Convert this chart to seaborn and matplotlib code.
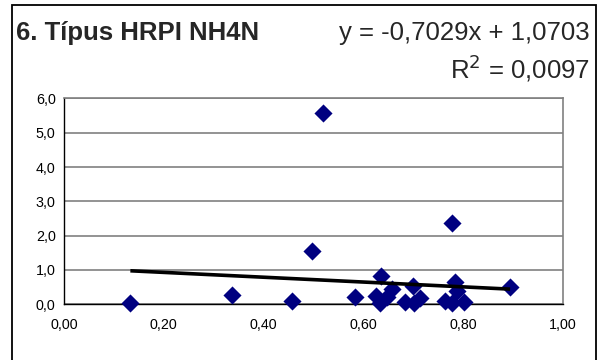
import numpy as np
import pandas as pd
import matplotlib
matplotlib.use("Agg")
import matplotlib.pyplot as plt
from matplotlib.patches import Rectangle
import seaborn as sns

# Measured points: ratio (x) vs. NH4-N concentration (y)
x_vals = [0.133, 0.337, 0.457, 0.497, 0.520, 0.583, 0.625, 0.633, 0.635,
          0.648, 0.657, 0.683, 0.700, 0.701, 0.713, 0.763, 0.777, 0.778,
          0.783, 0.787, 0.802, 0.894]
y_vals = [0.05, 0.28, 0.10, 1.56, 5.57, 0.22, 0.24, 0.03, 0.83,
          0.22, 0.44, 0.06, 0.53, 0.05, 0.18, 0.11, 0.05, 2.38,
          0.65, 0.38, 0.06, 0.51]

# Linear trend line coefficients
slope = -0.7029
intercept = 1.0703
r_squared = 0.0097

title_text = "6. Típus HRPI NH4N"
x_ticks = [0.0, 0.2, 0.4, 0.6, 0.8, 1.0]
y_ticks = [0.0, 1.0, 2.0, 3.0, 4.0, 5.0, 6.0]

df = pd.DataFrame({"x": x_vals, "y": y_vals})

sns.set_style("white")
plt.rcParams["font.family"] = ["Liberation Sans", "DejaVu Sans"]

W, H = 603, 360
fig = plt.figure(figsize=(W / 100, H / 100), dpi=100)
fig.patch.set_facecolor("white")

# plot area in pixel coordinates
left, right, top, bottom = 64, 563, 98.4, 304.3
ax = fig.add_axes([left / W, (H - bottom) / H, (right - left) / W, (bottom - top) / H])

sns.scatterplot(data=df, x="x", y="y", ax=ax, marker="D", s=85,
                color="#000080", edgecolor="#000080", linewidth=0, zorder=3,
                clip_on=False)

xs = np.array([min(x_vals), max(x_vals)])
ax.plot(xs, slope * xs + intercept, color="black", lw=2.6,
        solid_capstyle="butt", zorder=4)

ax.set_xlim(0, 1.0)
ax.set_ylim(0, 6.0)
ax.set_xticks(x_ticks)
ax.set_yticks(y_ticks)
ax.set_xticklabels([f"{v:.2f}".replace(".", ",") for v in x_ticks])
ax.set_yticklabels([f"{v:.1f}".replace(".", ",") for v in y_ticks])
ax.set_xlabel("")
ax.set_ylabel("")

ax.grid(axis="y", color="#808080", lw=1.2)
ax.set_axisbelow(True)
for side in ("top", "right"):
    ax.spines[side].set_color("#808080")
    ax.spines[side].set_linewidth(1.2)
for side in ("left", "bottom"):
    ax.spines[side].set_color("#000000")
    ax.spines[side].set_linewidth(1.0)

ax.tick_params(axis="x", direction="out", length=4, width=1, color="black",
               labelsize=10.3, pad=6, labelcolor="black")
ax.tick_params(axis="y", direction="inout", length=6, width=1, color="black",
               labelsize=10.3, pad=3, labelcolor="black")

# chart frame
fig.add_artist(Rectangle((12 / W, -0.05), (596 - 12) / W, (H - 5) / H + 0.05,
                         transform=fig.transFigure, fill=False,
                         edgecolor="black", lw=1.3, clip_on=False))

fig.text(16 / W, 1 - 40 / H, title_text, fontsize=18.5, fontweight="bold",
         ha="left", va="baseline")
fig.text(590 / W, 1 - 40 / H, f"y = {slope:.4f}x + {intercept:.4f}".replace(".", ","),
         fontsize=18.5, ha="right", va="baseline")
fig.text(590 / W, 1 - 78 / H, f"R$^{{2}}$ = {r_squared:.4f}".replace(".", ","),
         fontsize=18.5, ha="right", va="baseline")

fig.savefig("out.png", dpi=100)
